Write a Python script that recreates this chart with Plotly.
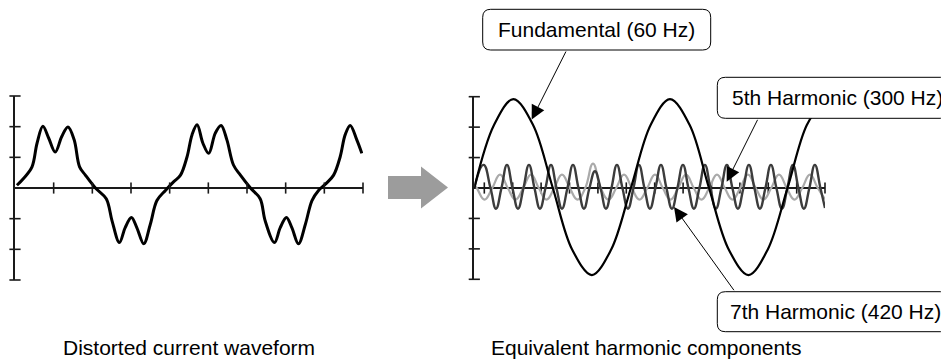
import plotly.graph_objects as go

# page has an 8 px body margin; work in window pixels and convert
OFF = 8
W, H = 949 - OFF, 359 - OFF

# ---------------- data ----------------
# Left: distorted current waveform (x in grid units, y in grid units)
dist_x = [0.05, 0.22, 0.44, 0.57, 0.72, 0.87, 1.04, 1.21, 1.37, 1.53, 1.67, 1.82,
          2.08, 2.36, 2.51, 2.70, 2.85, 3.01, 3.15, 3.33, 3.50, 3.67, 3.89,
          4.10, 4.28, 4.45, 4.58, 4.71, 4.86, 5.01, 5.18, 5.33, 5.48, 5.65, 5.83,
          6.09, 6.34, 6.47, 6.71, 6.86, 7.02, 7.16, 7.33, 7.51, 7.68, 7.85,
          8.05, 8.24, 8.41, 8.54, 8.67, 8.84, 8.97]
dist_y = [0.09, 0.31, 0.69, 1.46, 2.01, 1.63, 1.17, 1.68, 1.99, 1.57, 0.69, 0.42,
          0.00, -0.35, -1.07, -1.78, -1.29, -0.96, -1.29, -1.82, -1.18, -0.41, -0.08,
          0.20, 0.42, 1.02, 1.74, 2.06, 1.46, 1.13, 1.79, 2.04, 1.57, 0.75, 0.42,
          0.00, -0.35, -1.07, -1.78, -1.29, -0.96, -1.29, -1.82, -1.18, -0.41, -0.08,
          0.15, 0.42, 1.02, 1.74, 2.04, 1.57, 1.13]

left_xticks = [1, 2, 3, 4, 5, 6, 7, 8, 9]
left_yticks = [-3, -2, -1, 1, 2, 3]

# Right: fundamental (60 Hz)
fund_x = [0.0, 0.51, 1.01, 1.52, 2.03, 2.53, 3.04, 3.54, 4.05, 4.56, 5.06, 5.57,
          6.07, 6.58, 7.09, 7.59, 8.10, 8.60, 9.07]
fund_y = [0.0, 2.07, 2.92, 2.07, 0.0, -2.02, -2.86, -2.02, 0.0, 2.07, 2.92, 2.07,
          0.0, -2.02, -2.86, -2.02, 0.0, 2.07, 2.92]

# Right: 5th harmonic (light grey)
h5_x = [0.0, 0.064, 0.264, 0.465, 0.665, 0.866, 1.066, 1.266, 1.467, 1.667, 1.868,
        2.068, 2.268, 2.469, 2.669, 2.870, 3.070, 3.270, 3.471, 3.671, 3.872,
        4.072, 4.272, 4.473, 4.673, 4.874, 5.074, 5.274, 5.475, 5.675, 5.876,
        6.076, 6.276, 6.477, 6.677, 6.878, 7.078, 7.278, 7.479, 7.679, 7.880,
        8.080, 8.280, 8.481, 8.681, 8.882, 9.07]
h5_y = [0.10, 0.0, -0.38, 0.0, 0.44, 0.0, -0.38, 0.0, 0.44, 0.0, -0.38,
        0.0, 0.44, 0.0, -0.38, 0.0, 0.80, 0.0, -0.38, 0.0, 0.44,
        0.0, -0.38, 0.0, 0.44, 0.0, -0.38, 0.0, 0.44, 0.0, -0.38,
        0.0, 0.44, 0.0, -0.38, 0.0, 0.44, 0.0, -0.38, 0.0, 0.44,
        0.0, -0.38, 0.0, 0.44, 0.0, -0.37]

# Right: 7th harmonic (dark grey)
h7_x = [0.0, 0.24, 0.419, 0.561, 0.703, 0.845, 0.987, 1.130, 1.272, 1.414,
        1.556, 1.698, 1.841, 1.983, 2.125, 2.267, 2.409, 2.552, 2.694, 2.836,
        2.978, 3.120, 3.263, 3.405, 3.547, 3.689, 3.831, 3.974, 4.116, 4.258,
        4.400, 4.542, 4.685, 4.827, 4.969, 5.111, 5.253, 5.396, 5.538, 5.680,
        5.822, 5.964, 6.107, 6.249, 6.391, 6.533, 6.675, 6.818, 6.960, 7.102,
        7.244, 7.386, 7.529, 7.671, 7.813, 7.955, 8.097, 8.240, 8.382, 8.524,
        8.666, 8.808, 8.951, 9.07]
h7_y = [0.0, 0.76, 0.0, -0.68, 0.0, 0.76, 0.0, -0.68, 0.0, 0.76,
        0.0, -0.68, 0.0, 0.76, 0.0, -0.68, 0.0, 0.76, 0.0, -0.68,
        0.0, 0.55, 0.0, -0.68, 0.0, 0.76, 0.0, -0.68, 0.0, 0.76,
        0.0, -0.68, 0.0, 0.76, 0.0, -0.68, 0.0, 0.76, 0.0, -0.68,
        0.0, 0.76, 0.0, -0.68, 0.0, 0.76, 0.0, -0.68, 0.0, 0.76,
        0.0, -0.68, 0.0, 0.76, 0.0, -0.68, 0.0, 0.76, 0.0, -0.68,
        0.0, 0.76, 0.0, -0.66]

right_xticks = [0.259, 0.993, 1.728, 2.462, 3.197, 3.931, 4.665, 5.400, 6.134,
                6.869, 7.603, 8.338, 9.07]
right_yticks = [-3, -2, -1, 1, 2, 3]

captions = ["Distorted current waveform", "Equivalent harmonic components"]
labels = ["Fundamental (60 Hz)", "5th Harmonic (300 Hz)", "7th Harmonic (420 Hz)"]

# ---------------- helpers (window pixels -> paper) ----------------
def px(x):
    return (x - OFF) / W

def py(y):
    return 1 - (y - OFF) / H

AX = "#1a1a1a"
FONT = "Liberation Sans, Arial, Helvetica, sans-serif"

fig = go.Figure()

# left panel
fig.add_trace(go.Scatter(x=dist_x, y=dist_y, mode="lines", xaxis="x", yaxis="y",
                         line=dict(color="black", width=3, shape="spline", smoothing=1.0)))
fig.add_trace(go.Scatter(x=left_xticks, y=[0] * len(left_xticks), mode="markers",
                         xaxis="x", yaxis="y", cliponaxis=False,
                         marker=dict(symbol="line-ns", size=8, line=dict(color=AX, width=1.6))))
fig.add_trace(go.Scatter(x=[0] * len(left_yticks), y=left_yticks, mode="markers",
                         xaxis="x", yaxis="y", cliponaxis=False,
                         marker=dict(symbol="line-ew", size=8, line=dict(color=AX, width=1.6))))

# right panel
fig.add_trace(go.Scatter(x=right_xticks, y=[0] * len(right_xticks), mode="markers",
                         xaxis="x2", yaxis="y2", cliponaxis=False,
                         marker=dict(symbol="line-ns", size=8, line=dict(color=AX, width=1.6))))
fig.add_trace(go.Scatter(x=[0] * len(right_yticks), y=right_yticks, mode="markers",
                         xaxis="x2", yaxis="y2", cliponaxis=False,
                         marker=dict(symbol="line-ew", size=8, line=dict(color=AX, width=1.6))))
fig.add_trace(go.Scatter(x=h5_x, y=h5_y, mode="lines", xaxis="x2", yaxis="y2",
                         line=dict(color="#aaaaaa", width=2.2, shape="spline", smoothing=1.3)))
fig.add_trace(go.Scatter(x=h7_x, y=h7_y, mode="lines", xaxis="x2", yaxis="y2",
                         line=dict(color="#3c3c3c", width=2.4, shape="spline", smoothing=1.3)))
fig.add_trace(go.Scatter(x=fund_x, y=fund_y, mode="lines", xaxis="x2", yaxis="y2",
                         line=dict(color="black", width=2.2, shape="spline", smoothing=1.0)))

axis_common = dict(showgrid=False, showticklabels=False, ticks="", fixedrange=True)
fig.update_layout(
    width=W, height=H, autosize=False,
    margin=dict(l=0, r=0, t=0, b=0),
    paper_bgcolor="white", plot_bgcolor="white",
    showlegend=False, hovermode=False,
    xaxis=dict(domain=[px(15), px(363)], range=[0, 9], zeroline=False,
               showline=False, anchor="y", **axis_common),
    yaxis=dict(domain=[py(280), py(96)], range=[-3, 3], anchor="x",
               showline=True, linecolor=AX, linewidth=1.6,
               zeroline=True, zerolinecolor=AX, zerolinewidth=1.6, **axis_common),
    xaxis2=dict(domain=[px(474.3), px(825)], range=[0, 9.07], zeroline=False,
                showline=False, anchor="y2", **axis_common),
    yaxis2=dict(domain=[py(279.3), py(96.7)], range=[-3, 3], anchor="x2",
                showline=True, linecolor=AX, linewidth=1.6,
                zeroline=True, zerolinecolor=AX, zerolinewidth=1.6, **axis_common),
)

# ---------------- decorations ----------------
def rbox(x0, y0, x1, y1, r=8):
    pts = (f"M {px(x0 + r)},{py(y0)} L {px(x1 - r)},{py(y0)} "
           f"Q {px(x1)},{py(y0)} {px(x1)},{py(y0 + r)} "
           f"L {px(x1)},{py(y1 - r)} Q {px(x1)},{py(y1)} {px(x1 - r)},{py(y1)} "
           f"L {px(x0 + r)},{py(y1)} Q {px(x0)},{py(y1)} {px(x0)},{py(y1 - r)} "
           f"L {px(x0)},{py(y0 + r)} Q {px(x0)},{py(y0)} {px(x0 + r)},{py(y0)} Z")
    return dict(type="path", path=pts, xref="paper", yref="paper",
                line=dict(color="black", width=1), fillcolor="white", layer="above")

shapes = [
    rbox(482.7, 9.3, 710.7, 50),
    rbox(717.3, 77.3, 948.3, 118.3),
    rbox(717.3, 291.7, 948.3, 331.7),
]
# grey block arrow between the panels
arrow_pts = [(388, 176), (421, 176), (421, 166.5), (448, 187.5), (421, 208.5),
             (421, 199), (388, 199)]
path = "M " + " L ".join(f"{px(a)},{py(b)}" for a, b in arrow_pts) + " Z"
shapes.append(dict(type="path", path=path, xref="paper", yref="paper",
                   line=dict(width=0), fillcolor="#9c9c9c"))
fig.update_layout(shapes=shapes)

ann = []
# leader arrows (tip, tail)
for (tx, ty), (sx, sy) in [((531.7, 119.5), (566.7, 50)),
                           ((726.7, 181.7), (758.3, 118.3)),
                           ((674, 207), (735, 291.7))]:
    ann.append(dict(x=px(tx), y=py(ty), xref="paper", yref="paper", text="",
                    showarrow=True, ax=sx - tx, ay=sy - ty, axref="pixel", ayref="pixel",
                    arrowhead=2, arrowsize=2.8, arrowwidth=1, arrowcolor="black",
                    standoff=0, startstandoff=0))
# label texts
for (cx, cy), t in zip([(596.7, 30), (837, 98), (835, 311.7)], labels):
    ann.append(dict(x=px(cx), y=py(cy), xref="paper", yref="paper", text=t,
                    showarrow=False, xanchor="center", yanchor="middle",
                    font=dict(family=FONT, size=21, color="black")))
for (cx, cy), t in zip([(189, 347), (646.5, 347)], captions):
    ann.append(dict(x=px(cx), y=py(cy), xref="paper", yref="paper", text=t,
                    showarrow=False, xanchor="center", yanchor="middle",
                    font=dict(family=FONT, size=21, color="black")))
fig.update_layout(annotations=ann)

fig.write_html("out.html")
